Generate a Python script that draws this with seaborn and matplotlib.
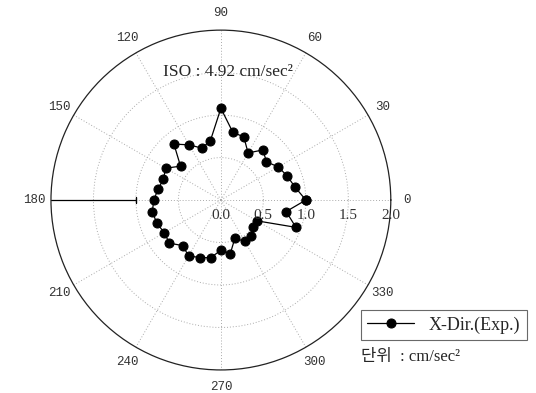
import numpy as np
import pandas as pd
import matplotlib
matplotlib.use("Agg")
import matplotlib.pyplot as plt
import matplotlib.transforms as mtransforms
import seaborn as sns

# -----------------------------------------------------------------------------
# Datos
# -----------------------------------------------------------------------------
angles_deg = [0, 10, 20, 30, 40, 50, 60, 70, 80, 90, 100, 110,
              120, 130, 140, 150, 160, 170, 180, 190, 200, 210, 220, 230,
              240, 250, 260, 270, 280, 290, 300, 310, 320, 330, 340, 350]
accel_x = [1.00, 0.885, 0.83, 0.78, 0.70, 0.77, 0.64, 0.79, 0.81, 1.08, 0.71, 0.65,
           0.75, 0.86, 0.62, 0.75, 0.72, 0.75, 0.79, 0.82, 0.80, 0.77, 0.79, 0.70,
           0.76, 0.72, 0.69, 0.59, 0.64, 0.48, 0.56, 0.56, 0.49, 0.49, 0.94, 0.78]
r_ticks = [0.0, 0.5, 1.0, 1.5, 2.0]
theta_ticks = [0, 30, 60, 90, 120, 150, 180, 210, 240, 270, 300, 330]
series_label = "X-Dir.(Exp.)"
iso_text = "ISO : 4.92 cm/sec²"
unit_text = "단위  : cm/sec²"

sns.set_style("white")
plt.rcParams["font.family"] = ["Liberation Serif", "Noto Sans CJK KR", "DejaVu Sans"]

df = pd.DataFrame({"theta": np.deg2rad(angles_deg), "r": accel_x})
closed = pd.concat([df, df.iloc[:1]], ignore_index=True)

fig = plt.figure(figsize=(5.36, 3.93), dpi=100)
ax = fig.add_axes([0.0951, 0.0585, 0.634, 0.865], projection="polar")

sns.lineplot(data=closed, x="theta", y="r", sort=False, estimator=None,
             color="black", linewidth=0.9, marker="o", markersize=6.5,
             markeredgecolor="black", ax=ax, label=series_label, legend=False)

ax.set_ylim(0, 2.0)
ax.set_yticks(r_ticks[1:-1])
ax.set_yticklabels([])
ax.set_xticks(np.deg2rad(theta_ticks))
ax.set_xticklabels([str(t) for t in theta_ticks], family="Liberation Mono",
                   fontsize=9, color="#333333")
ax.tick_params(axis="x", pad=1.5)
ax.grid(True, color="#aaaaaa", linestyle=(0, (1, 2)), linewidth=0.7)
ax.spines["polar"].set_linewidth(0.9)
ax.spines["polar"].set_color("#222222")
ax.set_xlabel("")
ax.set_ylabel("")

# etiquetas radiales debajo del eje 0°
off = mtransforms.offset_copy(ax.transData, fig=fig, x=0, y=-15, units="dots")
for rv in r_ticks:
    ax.text(0, rv, f"{rv:.1f}", transform=off, ha="center", va="center",
            fontsize=11, color="#333333")

# eje radial sólido en 180°
ax.plot([np.pi, np.pi], [r_ticks[2], r_ticks[-1]], color="black", linewidth=0.9)
ax.plot([np.pi], [r_ticks[2]], marker="|", color="black", markersize=5)

fig.text(0.425, 0.817, iso_text, ha="center", va="center", fontsize=12.5)

handles, labels = ax.get_legend_handles_labels()
leg = fig.legend(handles, labels, loc="upper left", bbox_to_anchor=(0.6735, 0.211),
                 borderaxespad=0, frameon=True, fancybox=False, edgecolor="#444444",
                 fontsize=13, handlelength=2.6, borderpad=0.35, handletextpad=0.8)
leg.get_frame().set_linewidth(0.8)

fig.text(0.6735, 0.092, unit_text, ha="left", va="center", fontsize=12)

fig.savefig("out.png", dpi=100)
